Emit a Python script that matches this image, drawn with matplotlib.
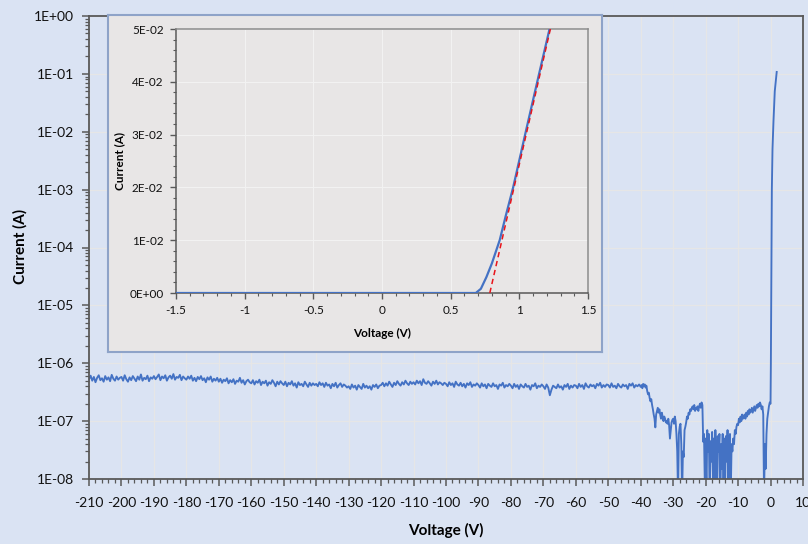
import numpy as np
import matplotlib
matplotlib.use("Agg")
import matplotlib.pyplot as plt
from matplotlib.ticker import FixedLocator, MultipleLocator, LogLocator, NullFormatter, FuncFormatter

plt.rcParams['font.family'] = ['Lato', 'DejaVu Sans']
plt.rcParams['axes.unicode_minus'] = False

# ---------------- data: main (log) sweep ----------------
# flat reverse region, 0.5 V steps from -210 to -40.5 (current in units of 1e-7 A)
flat_voltage = np.arange(-210, -40, 0.5)
flat_current_e7 = [
    5.3, 6.1, 5.0, 5.8, 4.7, 5.6, 6.2, 5.1, 5.5, 4.8, 6.0, 5.2, 5.7, 4.9, 6.3, 5.4, 5.0, 5.9, 5.2, 5.6,
    5.8, 5.0, 6.2, 5.3, 4.8, 5.7, 5.1, 6.0, 5.4, 4.9, 5.9, 5.2, 6.4, 5.0, 5.6, 5.3, 6.1, 4.9, 5.7, 5.4,
    6.0, 5.3, 5.8, 6.4, 5.1, 5.9, 5.5, 6.2, 5.0, 5.7, 6.1, 5.4, 6.5, 5.2, 5.8, 5.6, 6.3, 5.1, 5.9, 5.5,
    5.2, 5.9, 5.4, 6.1, 5.0, 5.6, 4.9, 5.8, 5.3, 6.0, 5.1, 5.5, 4.7, 5.7, 5.2, 5.9, 4.8, 5.4, 5.0, 5.6,
    4.8, 5.4, 4.6, 5.2, 4.9, 5.5, 4.5, 5.1, 4.7, 5.3, 4.4, 5.0, 4.8, 5.6, 4.6, 5.1, 4.3, 4.9, 5.2, 4.7,
    4.5, 5.1, 4.3, 4.9, 4.6, 5.2, 4.2, 4.8, 4.5, 5.0, 4.1, 4.7, 4.4, 5.1, 4.6, 4.0, 4.8, 4.3, 4.9, 4.5,
    4.2, 4.8, 4.0, 4.6, 4.3, 4.9, 4.1, 4.5, 3.8, 4.7, 4.2, 4.4, 4.0, 4.8, 4.3, 3.9, 4.6, 4.1, 4.5, 4.2,
    4.4, 4.0, 4.7, 4.2, 4.5, 3.9, 4.6, 4.1, 4.3, 3.7, 4.4, 4.0, 4.6, 3.8, 4.2, 4.5, 3.9, 4.3, 4.1, 3.8,
    4.0, 3.6, 4.3, 3.8, 4.1, 3.5, 4.2, 3.9, 3.6, 4.4, 3.8, 4.1, 3.7, 4.0, 3.5, 4.2, 3.9, 4.3, 3.7, 4.1,
    4.2, 4.6, 4.0, 4.5, 4.1, 4.8, 4.3, 3.9, 4.6, 4.2, 4.9, 4.4, 4.1, 4.7, 4.3, 5.0, 4.5, 4.2, 4.8, 4.4,
    4.7, 4.3, 5.0, 4.5, 4.9, 4.2, 5.3, 4.6, 4.4, 4.9, 4.5, 4.1, 4.8, 4.4, 5.0, 4.3, 4.7, 4.5, 4.2, 4.6,
    4.4, 4.0, 4.7, 4.2, 4.5, 3.9, 4.8, 4.3, 4.1, 4.6, 4.0, 4.4, 3.8, 4.5, 4.2, 4.7, 3.9, 4.3, 4.1, 4.5,
    4.2, 3.8, 4.5, 4.0, 4.3, 3.7, 4.4, 4.1, 3.9, 4.5, 4.0, 4.2, 3.6, 4.3, 4.1, 4.6, 3.8, 4.2, 4.0, 4.4,
    4.1, 3.7, 4.4, 3.9, 4.2, 3.6, 4.3, 4.0, 3.8, 4.4, 3.9, 4.1, 3.5, 4.2, 4.0, 4.5, 3.7, 4.1, 3.9, 4.3,
    4.0, 3.6, 4.3, 3.8, 2.8, 3.5, 4.1, 3.9, 3.7, 4.3, 3.8, 4.0, 3.5, 4.2, 3.9, 4.4, 3.6, 4.1, 3.8, 4.2,
    4.1, 3.7, 4.4, 3.9, 4.2, 3.6, 4.5, 4.0, 3.8, 4.3, 4.0, 4.2, 3.7, 4.4, 4.1, 4.6, 3.8, 4.2, 3.9, 4.3,
    4.2, 3.8, 4.5, 3.9, 4.1, 3.7, 4.4, 4.0, 3.8, 4.3, 4.0, 4.2, 3.6, 4.4, 4.1, 4.5, 3.8, 4.2, 4.0, 4.3,
]
# soft region, 0.25 V steps from -40 to -0.25 (units of 1e-7 A)
soft_voltage = np.arange(-40.0, 0.0, 0.25)
soft_current_e7 = [
    3.9, 4.2, 3.7, 4.4, 4.0, 4.3, 3.8, 4.1,
    3.3, 2.9, 3.1, 2.5, 2.2, 2.4, 1.9, 1.6,
    1.3, 1.1, 0.78, 1.3, 1.5, 1.7, 1.4, 1.6,
    1.3, 1.1, 1.4, 1.2, 1.0, 1.2, 1.1, 0.95,
    1.0, 0.9, 1.1, 0.85, 0.5, 0.7, 0.95, 1.05,
    1.1, 0.9, 1.2, 1.0, 0.6, 0.3, 0.05, 0.6,
    0.8, 0.9, 0.4, 0.05, 0.3, 0.24, 0.7, 0.8,
    0.95, 1.2, 1.1, 1.4, 1.3, 1.6, 1.5, 1.7,
    1.8, 1.6, 1.9, 1.5, 1.7, 1.6, 1.8, 1.5,
    1.8, 2.0, 1.7, 2.1, 1.9, 0.44, 0.6, 0.08,
    0.5, 0.05, 0.7, 0.3, 0.6, 0.04, 0.45, 0.2,
    0.65, 0.1, 0.5, 0.05, 0.7, 0.25, 0.04, 0.55,
    0.3, 0.6, 0.03, 0.4, 0.15, 0.6, 0.05, 0.5,
    0.08, 0.55, 0.2, 0.7, 0.04, 0.45, 0.6, 0.06,
    0.4, 0.3, 0.5, 0.4, 0.7, 0.6, 0.8, 0.9,
    0.85, 1.1, 0.95, 1.2, 1.0, 1.3, 1.1, 1.2,
    1.3, 1.1, 1.4, 1.2, 1.5, 1.3, 1.6, 1.4,
    1.5, 1.7, 1.4, 1.6, 1.8, 1.5, 1.7, 1.9,
    1.7, 2.0, 1.8, 2.1, 1.9, 1.6, 1.8, 1.3,
    0.05, 0.4, 0.15, 0.6, 1.1, 1.4, 1.8, 2.1,
]
# forward turn-on (A)
fwd_voltage = [0.0, 0.1, 0.2, 0.3, 0.4, 0.6, 0.9, 1.3, 1.9]
fwd_current = [2.0e-7, 1e-6, 1e-5, 1e-4, 1e-3, 5e-3, 0.015, 0.05, 0.108]

main_v = np.concatenate([flat_voltage, soft_voltage, fwd_voltage])
main_i = np.concatenate([np.array(flat_current_e7) * 1e-7,
                         np.array(soft_current_e7) * 1e-7,
                         fwd_current])

# ---------------- data: inset (linear) ----------------
inset_v = [-1.5, 0.683, 0.72, 0.76, 0.80, 0.857, 0.90, 0.955, 1.05, 1.15, 1.22]
inset_i = [0.0, 0.0, 0.0008, 0.003, 0.0056, 0.010, 0.0145, 0.020, 0.0309, 0.0422, 0.050]
fit_v = [0.785, 1.226]
fit_i = [0.0, 0.050]

main_xticks = list(range(-210, 11, 10))
main_yticks = [1e-8, 1e-7, 1e-6, 1e-5, 1e-4, 1e-3, 1e-2, 1e-1, 1e0]
inset_xticks = [-1.5, -1, -0.5, 0, 0.5, 1, 1.5]
inset_xlabels = ['-1.5', '-1', '-0.5', '0', '0.5', '1', '1.5']
inset_yticks = [0, 0.01, 0.02, 0.03, 0.04, 0.05]
inset_ylabels = ['0E+00', '1E-02', '2E-02', '3E-02', '4E-02', '5E-02']

# ---------------- figure ----------------
BG = '#dae3f3'
PANEL = '#e8e6e6'
BLUE = '#4472c4'
SPINE = '#595959'

fig = plt.figure(figsize=(8.08, 5.44), dpi=100, facecolor=BG)

ax = fig.add_axes([89/808, 1-479/544, (803-89)/808, (479-16)/544])
ax.set_facecolor(BG)
ax.plot(main_v, main_i, color=BLUE, lw=1.35)
ax.set_yscale('log')
ax.set_xlim(-210, 10)
ax.set_ylim(1e-8, 1)
ax.xaxis.set_major_locator(FixedLocator(main_xticks))
ax.xaxis.set_minor_locator(MultipleLocator(2))
ax.yaxis.set_major_locator(FixedLocator(main_yticks))
ax.yaxis.set_minor_locator(LogLocator(base=10, subs=np.arange(2, 10), numticks=20))
ax.yaxis.set_minor_formatter(NullFormatter())

def sci_fmt(v, pos):
    e = int(round(np.log10(v)))
    return f"1E{'+' if e >= 0 else '-'}{abs(e):02d}"
ax.yaxis.set_major_formatter(FuncFormatter(sci_fmt))
ax.grid(True, which='major', color='#e6e6e6', lw=0.9)
ax.set_axisbelow(True)
for s in ax.spines.values():
    s.set_color(SPINE)
    s.set_linewidth(1.3)
ax.tick_params(axis='x', which='major', pad=8)
ax.tick_params(axis='y', which='major', pad=6)
ax.tick_params(which='major', direction='out', length=5, width=1.1, color=SPINE,
               labelsize=10, labelcolor='#111111')
ax.tick_params(which='minor', direction='out', length=3, width=0.9, color=SPINE)
ax.set_xlabel('Voltage (V)', fontsize=11, fontweight='bold')
ax.set_ylabel('Current (A)', fontsize=11, fontweight='bold')
ax.xaxis.set_label_coords((446 - 89) / 714, (479 - 523) / 463)
ax.yaxis.set_label_coords((28 - 89) / 714, (479 - 246) / 463)

# inset panel
pan = fig.add_axes([108/808, 1-352/544, (602-108)/808, (352-15)/544])
pan.set_facecolor(PANEL)
pan.set_xticks([]); pan.set_yticks([])
for s in pan.spines.values():
    s.set_color('#8ea3c8')
    s.set_linewidth(1.5)

ins = fig.add_axes([176/808, 1-293/544, (588-176)/808, (293-29)/544])
ins.set_facecolor(PANEL)
ins.plot(inset_v, inset_i, color=BLUE, lw=1.6, zorder=3)
ins.plot(fit_v, fit_i, color='#e8141b', lw=1.1, ls=(0, (3.5, 2.5)), zorder=4)
ins.set_xlim(-1.5, 1.5)
ins.set_ylim(0, 0.05)
ins.set_xticks(inset_xticks)
ins.set_xticklabels(inset_xlabels)
ins.set_yticks(inset_yticks)
ins.set_yticklabels(inset_ylabels)
ins.xaxis.set_minor_locator(MultipleLocator(0.1))
ins.yaxis.set_minor_locator(MultipleLocator(0.002))
ins.grid(True, which='major', color='#f2f2f2', lw=0.8)
ins.set_axisbelow(True)
for s in ins.spines.values():
    s.set_color('#8c8c8c')
    s.set_linewidth(1.1)
ins.spines['bottom'].set_color('#595959')
ins.spines['left'].set_color('#595959')
ins.tick_params(which='major', direction='out', length=4, width=1.0, color='#595959',
                labelsize=8.5, pad=5, labelcolor='#111111')
ins.tick_params(which='minor', direction='out', length=2.5, width=0.8, color='#595959')
ins.set_xlabel('Voltage (V)', fontsize=8.5, fontweight='bold')
ins.set_ylabel('Current (A)', fontsize=8.5, fontweight='bold')
ins.xaxis.set_label_coords(0.5, (293 - 328) / 264)
ins.yaxis.set_label_coords((125 - 176) / 412, 0.5)

fig.savefig('out.png', dpi=100, facecolor=BG)
